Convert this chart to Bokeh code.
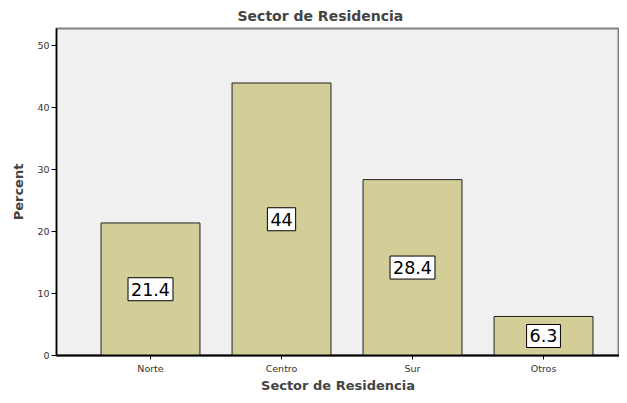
from bokeh.plotting import figure
from bokeh.models import ColumnDataSource, Range1d, FixedTicker
from bokeh.core.properties import value
from bokeh.embed import file_html
from bokeh.resources import INLINE

categories = ["Norte", "Centro", "Sur", "Otros"]
percent = [21.4, 44.0, 28.4, 6.3]
labels = ["21.4", "44", "28.4", "6.3"]
y_ticks = [0, 10, 20, 30, 40, 50]

xs = list(range(1, len(categories) + 1))
src = ColumnDataSource(dict(x=xs, top=percent, mid=[v / 2 for v in percent], lab=labels))

FONT = "DejaVu Sans"

p = figure(width=619, height=395, output_backend="svg", toolbar_location=None,
           x_range=Range1d(0.2824, 4.58), y_range=Range1d(0, 52.8),
           min_border_left=56, min_border_right=0, min_border_top=0, min_border_bottom=0)

p.title.text = "Sector de Residencia"
p.title.align = "left"
p.title.offset = 181
p.title.text_font = FONT
p.title.text_font_size = "14px"
p.title.text_font_style = "bold"

p.background_fill_color = "#F0F0F0"
p.border_fill_color = "white"
p.outline_line_color = "#808080"
p.outline_line_width = 2
p.grid.visible = False

p.vbar(x="x", top="top", width=0.755, source=src, fill_color="#D3CE97",
       line_color="#222222", line_width=1)

p.text(x="x", y="mid", text="lab", source=src, text_align="center",
       text_baseline="middle", text_font=value(FONT), text_font_size="17.5px",
       text_color="black", background_fill_color="white",
       border_line_color="black", border_line_width=1, padding=(3, 5))

p.yaxis.ticker = FixedTicker(ticks=y_ticks)
p.xaxis.ticker = FixedTicker(ticks=xs)
p.xaxis.major_label_overrides = {i: c for i, c in zip(xs, categories)}
for ax in (p.xaxis[0], p.yaxis[0]):
    ax.major_label_text_font = FONT
    ax.major_label_text_font_size = "9.5px"
    ax.major_label_text_color = "#333333"
    ax.axis_label_text_font = FONT
    ax.axis_label_text_font_size = "13px"
    ax.axis_label_text_font_style = "bold"
    ax.axis_line_color = "black"
    ax.major_tick_line_color = "black"
    ax.minor_tick_line_color = None
    ax.major_tick_out = 5
    ax.major_tick_in = 0

p.xaxis.axis_label = "Sector de Residencia"
p.yaxis.axis_label = "Percent"
p.xaxis.axis_line_width = 2
p.yaxis.axis_line_width = 1.5
p.xaxis.major_tick_out = 4
p.xaxis.major_label_standoff = 3
p.xaxis.axis_label_standoff = 1
p.yaxis.major_label_standoff = 2
p.yaxis.axis_label_standoff = 8

open("out.html", "w").write(file_html(p, INLINE))
